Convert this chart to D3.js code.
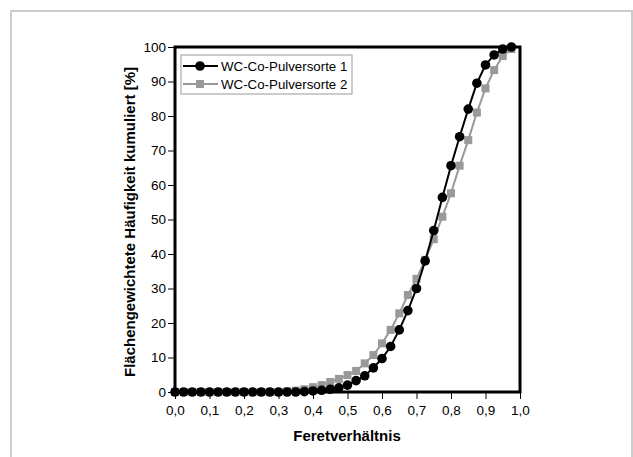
<!DOCTYPE html>
<html>
<head>
<meta charset="utf-8">
<script src="https://d3js.org/d3.v7.min.js"></script>
<style>
	body {margin:0; background:#fff;}
	text {font-family:"Liberation Sans", Arial, sans-serif;}
</style>
</head>
<body>
<div id="mydiv"></div>
<script>
// Feretverhaeltnis, Schritt 0,025
var xValues = [0,0.025,0.05,0.075,0.1,0.125,0.15,0.175,0.2,0.225,0.25,0.275,0.3,0.325,0.35,0.375,0.4,0.425,0.45,0.475,0.5,
	0.525,0.55,0.575,0.6,0.625,0.65,0.675,0.7,0.725,0.75,0.775,0.8,0.825,0.85,0.875,0.9,0.925,0.95,0.975];
var sorte1 = [0,0,0,0,0,0,0,0,0,0,0,0,0,0,0,0.1,0.3,0.5,0.8,1.2,2.0,
	3.3,4.7,7,9.7,13.2,18,23.6,30,38,46.8,56.4,65.6,74,82,89.5,94.8,97.7,99.4,100];
var sorte2 = [0,0,0,0,0,0,0,0,0,0,0,0,0,0.2,0.4,0.8,1.4,2.0,2.9,3.8,4.9,
	6.1,8.3,10.7,14.1,18,22.8,28.1,32.8,38.3,44.3,50.8,57.6,65.6,73,81,88,93.3,97.4,99.4];
var xTicks = [0,0.1,0.2,0.3,0.4,0.5,0.6,0.7,0.8,0.9,1.0];
var yTicks = [0,10,20,30,40,50,60,70,80,90,100];
var seriesNames = ["WC-Co-Pulversorte 1","WC-Co-Pulversorte 2"];

var W = 633, H = 457;
var svg = d3.select("#mydiv").append("svg")
	.attr("width", W)
	.attr("height", H);

// grauer Rahmen
svg.append("rect")
	.attr("x", 11).attr("y", 11)
	.attr("width", 621).attr("height", 460)
	.attr("fill", "none")
	.attr("stroke", "#cccccc")
	.attr("stroke-width", 2);

var x = d3.scaleLinear().domain([0, 1]).range([175, 520]);
var y = d3.scaleLinear().domain([0, 100]).range([392, 47]);

var fmt = function(d) { return d.toFixed(1).replace(".", ","); };

var xAxis = svg.append("g")
	.attr("transform", "translate(0,393)")
	.call(d3.axisBottom(x).tickValues(xTicks).tickFormat(fmt).tickSize(6).tickSizeOuter(0));
var yAxis = svg.append("g")
	.attr("transform", "translate(174,0)")
	.call(d3.axisLeft(y).tickValues(yTicks).tickSize(6).tickSizeOuter(0));

[xAxis, yAxis].forEach(function(a) {
	a.select(".domain").remove();
	a.selectAll("line").attr("stroke", "#000").attr("stroke-width", 1);
	a.selectAll("text")
		.attr("font-family", "Liberation Sans, Arial, sans-serif")
		.attr("font-size", 13.5)
		.attr("fill", "#000");
});
xAxis.selectAll("text").attr("dy", "0.95em");
yAxis.selectAll("text").attr("x", -8);

// Kurven
var line = d3.line()
	.x(function(d, i) { return x(xValues[i]); })
	.y(function(d) { return y(d); });

svg.append("path").datum(sorte2)
	.attr("d", line)
	.attr("fill", "none")
	.attr("stroke", "#999999")
	.attr("stroke-width", 2);
svg.selectAll("rect.sq").data(sorte2).enter()
	.append("rect").attr("class", "sq")
	.attr("x", function(d, i) { return x(xValues[i]) - 4; })
	.attr("y", function(d) { return y(d) - 4; })
	.attr("width", 8).attr("height", 8)
	.attr("fill", "#999999");

svg.append("path").datum(sorte1)
	.attr("d", line)
	.attr("fill", "none")
	.attr("stroke", "#000")
	.attr("stroke-width", 2);
svg.selectAll("circle.pt").data(sorte1).enter()
	.append("circle").attr("class", "pt")
	.attr("cx", function(d, i) { return x(xValues[i]); })
	.attr("cy", function(d) { return y(d); })
	.attr("r", 4.8)
	.attr("fill", "#000");

// Rahmen der Grafik
svg.append("rect")
	.attr("x", x(0)).attr("y", y(100))
	.attr("width", x(1) - x(0)).attr("height", y(0) - y(100))
	.attr("fill", "none")
	.attr("stroke", "#000")
	.attr("stroke-width", 3);

// Legende
var leg = svg.append("g");
leg.append("rect")
	.attr("x", 181).attr("y", 55)
	.attr("width", 171).attr("height", 39)
	.attr("fill", "#fff")
	.attr("stroke", "#999")
	.attr("stroke-width", 1);
var legColors = ["#000", "#999999"];
seriesNames.forEach(function(name, i) {
	var ly = 66 + i * 18;
	leg.append("line")
		.attr("x1", 183).attr("x2", 218)
		.attr("y1", ly).attr("y2", ly)
		.attr("stroke", legColors[i])
		.attr("stroke-width", 2);
	if (i == 0) {
		leg.append("circle").attr("cx", 200).attr("cy", ly).attr("r", 4.8).attr("fill", legColors[i]);
	} else {
		leg.append("rect").attr("x", 196).attr("y", ly - 4).attr("width", 8).attr("height", 8).attr("fill", legColors[i]);
	}
	leg.append("text")
		.attr("x", 221).attr("y", ly + 5)
		.attr("font-size", 13.3)
		.attr("fill", "#000")
		.text(name);
});

// Achsentitel
svg.append("text")
	.attr("x", 347).attr("y", 441)
	.attr("text-anchor", "middle")
	.attr("font-size", 15)
	.attr("font-weight", "bold")
	.text("Feretverhältnis");
svg.append("text")
	.attr("transform", "translate(135,222) rotate(-90)")
	.attr("text-anchor", "middle")
	.attr("font-size", 15)
	.attr("font-weight", "bold")
	.text("Flächengewichtete Häufigkeit kumuliert [%]");
</script>
</body>
</html>
